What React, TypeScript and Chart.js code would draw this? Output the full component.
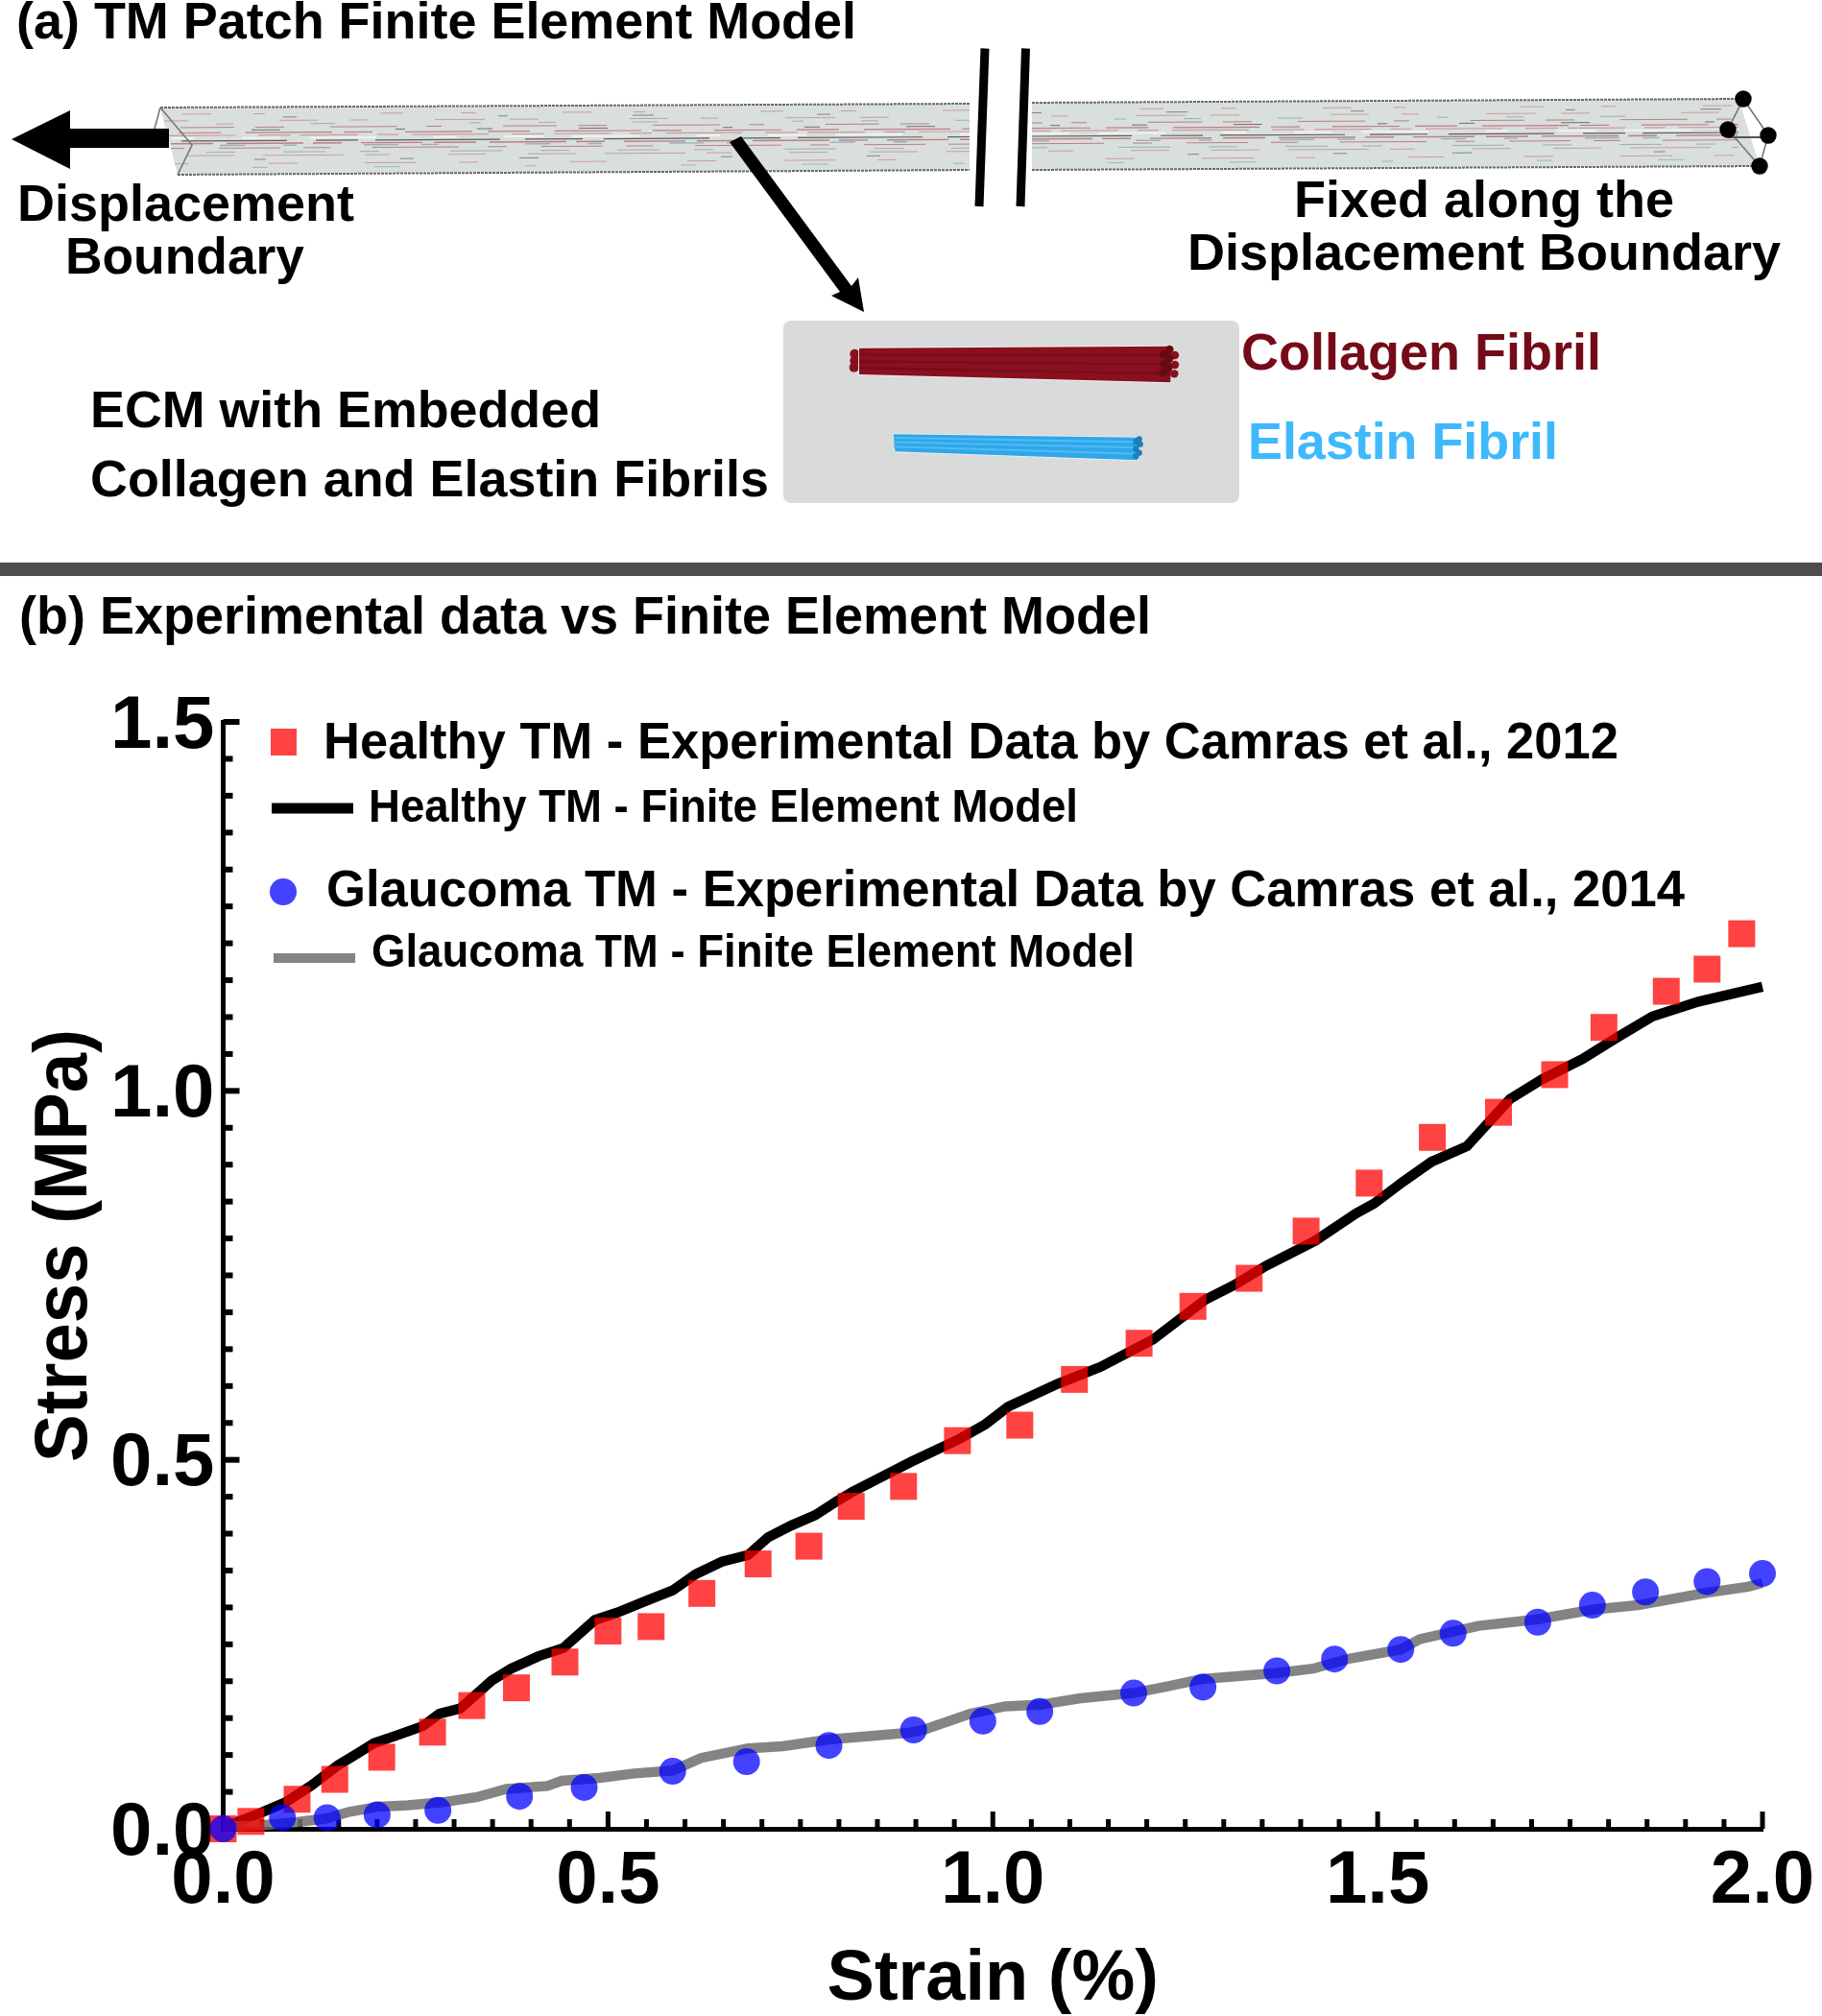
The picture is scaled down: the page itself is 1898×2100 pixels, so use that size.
import React, { useEffect, useRef } from "react";
import { Chart, registerables } from "chart.js";

Chart.register(...registerables);

const healthyExpX = [0, .036, .096, .145, .206, .272, .323, .381, .444, .5, .556, .622, .695, .761, .816, .884, .954, 1.035, 1.106, 1.19, 1.26, 1.333, 1.407, 1.489, 1.571, 1.657, 1.73, 1.794, 1.875, 1.928, 1.973];
const healthyExpY = [0, .010, .040, .067, .097, .131, .167, .191, .226, .268, .274, .319, .359, .383, .437, .464, .526, .547, .609, .658, .708, .746, .810, .875, .937, .971, 1.022, 1.086, 1.135, 1.165, 1.213];

const healthyFemX = [0, .043, .081, .115, .149, .173, .196, .224, .259, .281, .308, .349, .374, .41, .442, .483, .512, .55, .584, .614, .648, .682, .708, .738, .769, .799, .818, .852, .895, .956, .99, 1.02, 1.084, 1.14, 1.208, 1.276, 1.314, 1.355, 1.419, 1.472, 1.495, 1.533, 1.57, 1.616, 1.672, 1.714, 1.766, 1.812, 1.857, 1.917, 2.0];
const healthyFemY = [.002, .019, .036, .059, .086, .101, .116, .126, .139, .156, .163, .201, .217, .234, .245, .283, .293, .309, .323, .345, .362, .371, .395, .411, .425, .445, .457, .475, .498, .528, .548, .572, .603, .626, .663, .717, .737, .763, .797, .834, .847, .877, .904, .925, .989, 1.016, 1.043, 1.073, 1.101, 1.121, 1.141];

const glaucomaExpX = [0, .077, .135, .2, .279, .385, .469, .584, .68, .787, .897, .987, 1.061, 1.183, 1.273, 1.369, 1.444, 1.53, 1.598, 1.708, 1.779, 1.848, 1.928, 2.0];
const glaucomaExpY = [0, .015, .015, .019, .025, .044, .056, .078, .091, .113, .134, .146, .159, .184, .192, .214, .230, .243, .265, .280, .303, .321, .335, .346];

const glaucomaFemX = [0, .051, .096, .134, .164, .202, .24, .285, .33, .368, .421, .44, .489, .534, .584, .621, .682, .727, .787, .89, .91, .971, 1.016, 1.061, 1.114, 1.183, 1.227, 1.272, 1.369, 1.416, 1.461, 1.53, 1.555, 1.631, 1.708, 1.779, 1.838, 1.928, 1.981, 2.0];
const glaucomaFemY = [.003, .005, .009, .014, .023, .030, .032, .036, .043, .054, .058, .065, .069, .075, .079, .096, .109, .112, .121, .130, .134, .156, .166, .168, .177, .184, .193, .203, .211, .217, .230, .243, .257, .275, .284, .297, .303, .320, .328, .333];

const seriesLabels = [
  "Healthy TM - Experimental Data by Camras et al., 2012",
  "Healthy TM - Finite Element Model",
  "Glaucoma TM - Experimental Data by Camras et al., 2014",
  "Glaucoma TM - Finite Element Model",
];
const xAxisTitle = "Strain (%)";
const yAxisTitle = "Stress (MPa)";

const RED = "rgba(255,0,0,0.74)";
const BLUE = "rgba(0,0,255,0.74)";
const GRAY = "rgba(110,110,110,0.85)";
const FONT = '"Liberation Sans", Arial, sans-serif';

const pts = (xs: number[], ys: number[]) => xs.map((x, i) => ({ x, y: ys[i] }));

type Ctx = CanvasRenderingContext2D;

function fit(ctx: Ctx, s: string, x0: number, x1: number, base: number, size: number, color = "#000") {
  ctx.save();
  ctx.font = `bold ${size}px ${FONT}`;
  ctx.fillStyle = color;
  ctx.textAlign = "left";
  ctx.textBaseline = "alphabetic";
  const w = ctx.measureText(s).width;
  ctx.translate(x0, base);
  ctx.scale((x1 - x0) / w, 1);
  ctx.fillText(s, 0, 0);
  ctx.restore();
}

function poly(ctx: Ctx, p: number[][], fill?: string) {
  ctx.beginPath();
  p.forEach(([x, y], i) => (i ? ctx.lineTo(x, y) : ctx.moveTo(x, y)));
  ctx.closePath();
  if (fill) {
    ctx.fillStyle = fill;
    ctx.fill();
  }
}

const R1 = "#d09aa0";
const R2 = "#c07d85";
const B1 = "#94b2bc";
const D1 = "#6b6f70";
const textureRows: [number, string, number[], number][] = [
  [0.1, R1, [24, 60, 16, 90, 30, 44, 12, 120], 1],
  [0.15, D1, [10, 130, 22, 170, 14, 210], 0.8],
  [0.2, R1, [40, 34, 18, 70, 52, 26, 30, 95], 1],
  [0.25, B1, [18, 80, 26, 140, 12, 60], 1],
  [0.3, R2, [56, 22, 30, 48, 70, 30, 16, 64], 1],
  [0.34, D1, [16, 90, 30, 120, 10, 75], 1],
  [0.38, R2, [70, 16, 44, 26, 90, 12, 30, 34], 1.2],
  [0.42, R1, [34, 10, 60, 20, 22, 14, 80, 24], 1.2],
  [0.46, "#eef3f1", [40, 30, 70, 60, 24, 50], 2],
  [0.5, "#5c5f61", [60, 22, 110, 30, 44, 18, 130, 26], 1.2],
  [0.54, R2, [44, 14, 80, 10, 30, 20, 64, 12], 1.4],
  [0.57, B1, [26, 40, 14, 70, 36, 24, 18, 90], 1.4],
  [0.61, R2, [64, 24, 28, 44, 90, 30, 20, 36], 1],
  [0.67, B1, [30, 50, 44, 36, 20, 74, 54, 40], 1],
  [0.72, R1, [50, 30, 84, 22, 26, 60, 40, 44], 1],
  [0.78, D1, [14, 110, 20, 190, 12, 140], 0.8],
  [0.84, R1, [30, 70, 54, 44, 20, 96, 38, 84], 1],
  [0.9, B1, [16, 110, 28, 130, 12, 150], 0.9],
];

function bar(ctx: Ctx, p: number[][]) {
  ctx.save();
  poly(ctx, p, "#d8dfdc");
  ctx.clip();
  const [a, b, c, d] = p;
  textureRows.forEach(([f, col, dash, w], i) => {
    ctx.beginPath();
    ctx.setLineDash(dash);
    ctx.lineDashOffset = i * 37 + a[0];
    ctx.strokeStyle = col;
    ctx.lineWidth = w;
    ctx.moveTo(a[0], a[1] + (d[1] - a[1]) * f);
    ctx.lineTo(b[0], b[1] + (c[1] - b[1]) * f);
    ctx.stroke();
  });
  ctx.restore();
  ctx.save();
  ctx.strokeStyle = "#6a6a6a";
  ctx.lineWidth = 2;
  ctx.setLineDash([3, 1]);
  [[a, b], [d, c]].forEach(([u, v]) => {
    ctx.beginPath();
    ctx.moveTo(u[0], u[1]);
    ctx.lineTo(v[0], v[1]);
    ctx.stroke();
  });
  ctx.restore();
}

function seg(ctx: Ctx, p: number[][], w: number, color: string, cap: CanvasLineCap = "butt") {
  ctx.beginPath();
  p.forEach(([x, y], i) => (i ? ctx.lineTo(x, y) : ctx.moveTo(x, y)));
  ctx.strokeStyle = color;
  ctx.lineWidth = w;
  ctx.lineCap = cap;
  ctx.lineJoin = "miter";
  ctx.setLineDash([]);
  ctx.stroke();
}

function fibril(ctx: Ctx, p: number[][], base: string, stripe: string, stripes: number[], lw: number) {
  poly(ctx, p);
  ctx.strokeStyle = "#f0f0f0";
  ctx.lineWidth = 1.6;
  ctx.stroke();
  poly(ctx, p, base);
  const [a, b, c, d] = p;
  stripes.forEach((f) => {
    seg(ctx, [[a[0], a[1] + (d[1] - a[1]) * f], [b[0], b[1] + (c[1] - b[1]) * f]], lw, stripe);
  });
}

function dot(ctx: Ctx, x: number, y: number, r: number, color: string) {
  ctx.beginPath();
  ctx.arc(x, y, r, 0, Math.PI * 2);
  ctx.fillStyle = color;
  ctx.fill();
}

function panelA(ctx: Ctx) {
  fit(ctx, "(a) TM Patch Finite Element Model", 17, 892, 40, 54);

  bar(ctx, [[167, 112], [1010, 108], [1010, 177], [185, 182]]);
  bar(ctx, [[1075, 107], [1811, 103], [1833, 173], [1075, 177]]);
  seg(ctx, [[167, 112], [200, 151], [185, 182]], 1.6, "#777");
  seg(ctx, [[167, 112], [158, 145]], 1.6, "#777");
  seg(ctx, [[1816, 103], [1800, 135], [1833, 173], [1842, 141], [1816, 103]], 1.6, "#777");
  seg(ctx, [[1800, 143], [1842, 143]], 2, "#555");
  dot(ctx, 1816, 103, 8.7, "#000");
  dot(ctx, 1800, 135, 8.7, "#000");
  dot(ctx, 1842, 141, 8.7, "#000");
  dot(ctx, 1833, 173, 8.7, "#000");

  poly(ctx, [[12, 145], [73, 115], [73, 134], [176, 134], [176, 154], [73, 154], [73, 176]], "#000");
  seg(ctx, [[1026, 50.5], [1020, 215]], 9, "#000");
  seg(ctx, [[1068.5, 50.5], [1063, 215]], 9, "#000");
  poly(ctx, [[760, 148], [772, 142], [887, 298], [894, 289], [900, 325], [866, 308], [875, 304]], "#000");

  fit(ctx, "Displacement", 18, 369, 230, 54);
  fit(ctx, "Boundary", 68, 317, 285, 54);
  fit(ctx, "Fixed along the", 1348, 1744, 226, 54);
  fit(ctx, "Displacement Boundary", 1237, 1855, 281, 54);
  fit(ctx, "ECM with Embedded", 94, 626, 445, 54);
  fit(ctx, "Collagen and Elastin Fibrils", 94, 801, 517, 54);
  fit(ctx, "Collagen Fibril", 1293, 1668, 385, 54, "#760b18");
  fit(ctx, "Elastin Fibril", 1300, 1623, 478, 54, "#3fb9fb");

  ctx.beginPath();
  ctx.roundRect(816, 334, 475, 190, 8);
  ctx.fillStyle = "#d9dbda";
  ctx.fill();

  const Z = (v: number[]) => [800 + v[0] / 3, 320 + v[1] / 3];
  [[265, 146], [265, 167], [263, 188]].forEach((c) => {
    const [x, y] = Z(c);
    dot(ctx, x + 2, y, 5, "#8a0f1f");
  });
  fibril(ctx, [[285, 128], [1262, 122], [1258, 235], [285, 210]].map(Z), "#8a0f1f", "#750c1a", [0.24, 0.5, 0.76], 2.2);
  [[1272, 150], [1272, 180], [1270, 208], [1255, 132], [1255, 160], [1252, 190], [1237, 148], [1237, 178], [1235, 205]].forEach((c, i) => {
    const [x, y] = Z(c);
    dot(ctx, x, y, 4.2, i < 3 ? "#8a0f1f" : "#650a15");
  });
  fibril(ctx, [[392, 397], [1160, 407], [1155, 478], [397, 451]].map(Z), "#2ea6ea", "#4fbcf3", [0.2, 0.45, 0.72], 2);
  [[1163, 428], [1160, 455], [1160, 412], [1150, 420], [1150, 442], [1150, 465]].forEach((c) => {
    const [x, y] = Z(c);
    dot(ctx, x, y, 3.2, "#1f7fbd");
  });

  ctx.fillStyle = "#4d4d4f";
  ctx.fillRect(0, 586, 1898, 14);
}

function legendB(ctx: Ctx) {
  fit(ctx, "(b) Experimental data vs Finite Element Model", 20, 1199, 660, 55);

  ctx.fillStyle = RED;
  ctx.fillRect(282, 759, 27, 28);
  fit(ctx, seriesLabels[0], 337, 1686, 790, 54);
  seg(ctx, [[283, 842], [368, 842]], 11, "#000");
  fit(ctx, seriesLabels[1], 384, 1123, 856, 48);
  dot(ctx, 295, 929, 14, BLUE);
  fit(ctx, seriesLabels[2], 340, 1755, 944, 54);
  seg(ctx, [[285, 998], [370, 998]], 10, GRAY);
  fit(ctx, seriesLabels[3], 387, 1182, 1007, 48);
}

const isMajor = (v: number) => Math.abs(v * 2 - Math.round(v * 2)) < 1e-6;

const backdrop = {
  id: "backdrop",
  beforeDraw(chart: any) {
    const ctx: Ctx = chart.ctx;
    ctx.save();
    ctx.fillStyle = "#fff";
    ctx.fillRect(0, 0, chart.width, chart.height);
    panelA(ctx);
    legendB(ctx);
    ctx.restore();
  },
  beforeDatasetsDraw(chart: any) {
    const ctx: Ctx = chart.ctx;
    const { x, y } = chart.scales;
    ctx.save();
    ctx.fillStyle = "#000";
    x.ticks.forEach((t: any) => {
      const px = x.getPixelForValue(t.value);
      const h = isMajor(t.value) ? 18 : 10;
      ctx.fillRect(px - 2.5, y.bottom - h, 5, h);
    });
    y.ticks.forEach((t: any) => {
      const py = y.getPixelForValue(t.value);
      const w = isMajor(t.value) ? 17 : 10;
      ctx.fillRect(x.left, py - 3, w, 6);
    });
    // y axis title, placed off-centre as in the figure
    ctx.translate(90, 1523);
    ctx.rotate(-Math.PI / 2);
    fit(ctx, y.options.title.text, 0, 451, 0, 77);
    ctx.restore();
  },
};

export default function App() {
  const ref = useRef<HTMLCanvasElement>(null);
  useEffect(() => {
    const chart = new Chart(ref.current as HTMLCanvasElement, {
      type: "scatter",
      plugins: [backdrop],
      data: {
        datasets: [
          { label: seriesLabels[2], data: pts(glaucomaExpX, glaucomaExpY), order: 0, pointStyle: "circle", pointRadius: 14, backgroundColor: BLUE, borderWidth: 0, clip: false },
          { label: seriesLabels[0], data: pts(healthyExpX, healthyExpY), order: 1, pointStyle: "rect", pointRadius: 19.8, backgroundColor: RED, borderWidth: 0, clip: false },
          { label: seriesLabels[3], data: pts(glaucomaFemX, glaucomaFemY), order: 2, showLine: true, pointRadius: 0, borderColor: GRAY, borderWidth: 10.5, tension: 0, clip: false },
          { label: seriesLabels[1], data: pts(healthyFemX, healthyFemY), order: 3, showLine: true, pointRadius: 0, borderColor: "#000", borderWidth: 10.5, tension: 0, clip: false },
        ] as any,
      },
      options: {
        responsive: false,
        animation: false,
        devicePixelRatio: 1,
        layout: { padding: { left: 0, top: 752, right: 62, bottom: 0 } },
        plugins: { legend: { display: false }, title: { display: false }, tooltip: { enabled: false } },
        scales: {
          x: {
            type: "linear",
            min: 0,
            max: 2,
            afterFit: (s: any) => { s.height = 195; s.paddingRight = 0; s.paddingLeft = 0; },
            grid: { display: false, drawTicks: false },
            border: { display: true, color: "#000", width: 5 },
            ticks: {
              stepSize: 0.05,
              autoSkip: false,
              maxRotation: 0,
              padding: 16,
              color: "#000",
              font: { family: FONT, size: 78, weight: "bold", lineHeight: 1 },
              callback: (v: any) => (isMajor(Number(v)) ? Number(v).toFixed(1) : ""),
            },
            title: { display: true, text: xAxisTitle, color: "#000", padding: 0, font: { family: FONT, size: 74, weight: "bold", lineHeight: 1 } },
          },
          y: {
            type: "linear",
            min: 0,
            max: 1.5,
            afterFit: (s: any) => { s.width = 232.5; s.paddingTop = 0; s.paddingBottom = 0; },
            grid: { display: false, drawTicks: false },
            border: { display: true, color: "#000", width: 5 },
            ticks: {
              stepSize: 0.05,
              autoSkip: false,
              padding: 9,
              labelOffset: 5,
              color: "#000",
              font: { family: FONT, size: 78, weight: "bold", lineHeight: 1 },
              callback: (v: any) => (isMajor(Number(v)) ? Number(v).toFixed(1) : ""),
            },
            title: { display: false, text: yAxisTitle },
          },
        },
      } as any,
    });
    return () => chart.destroy();
  }, []);
  return (
    <canvas
      ref={ref}
      width={1898}
      height={2100}
      style={{ position: "absolute", left: 0, top: 0, display: "block", width: 1898, height: 2100 }}
    />
  );
}
